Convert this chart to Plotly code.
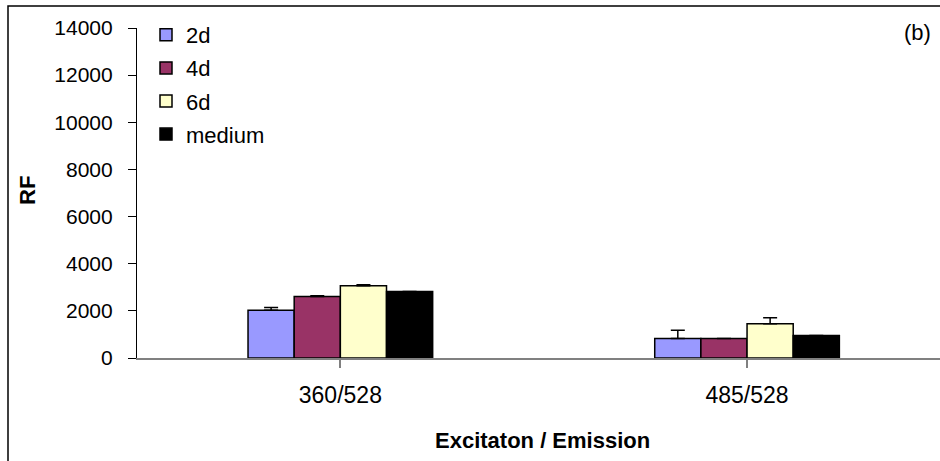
import plotly.graph_objects as go

categories = ["360/528", "485/528"]
series_names = ["2d", "4d", "6d", "medium"]
values = {
    "2d": [2030, 830],
    "4d": [2610, 830],
    "6d": [3060, 1450],
    "medium": [2820, 950],
}
errors = {
    "2d": [110, 350],
    "4d": [30, 0],
    "6d": [50, 260],
    "medium": [0, 0],
}
colors = {"2d": "#9999FF", "4d": "#993366", "6d": "#FFFFCC", "medium": "#000000"}
y_ticks = [0, 2000, 4000, 6000, 8000, 10000, 12000, 14000]

W, H = 940, 461
L, R, T, B = 137, 0, 28, 103
pw, ph = W - L - R, H - T - B

font = "Arial, Liberation Sans, sans-serif"

fig = go.Figure()
for i, s in enumerate(series_names):
    fig.add_trace(go.Bar(
        name=s, x=[0, 1], y=values[s],
        marker=dict(color=colors[s], line=dict(color="black", width=1.5)),
        error_y=dict(type="data", array=errors[s], arrayminus=[0, 0], symmetric=False,
                     color="black", thickness=1.5, width=7, visible=True),
        legendgroup=s,
    ))

def px_x(p):
    return (p - L) / pw

def px_y(p):
    return (H - B - p) / ph

cat_w = 406.7
x0 = -0.5
x1 = x0 + pw / cat_w

fig.update_layout(
    width=W, height=H,
    margin=dict(l=L, r=R, t=T, b=B, pad=0),
    paper_bgcolor="white", plot_bgcolor="white",
    barmode="group", bargap=0.546, bargroupgap=0,
    font=dict(family=font, size=22, color="black"),
    showlegend=True,
    legend=dict(x=px_x(146), y=px_y(14), xanchor="left", yanchor="top",
                bgcolor="rgba(0,0,0,0)", font=dict(size=22, family=font),
                traceorder="grouped", tracegroupgap=1.5, itemwidth=30),
    xaxis=dict(
        range=[x0, x1], tickmode="array", tickvals=[0, 1], ticktext=categories,
        tickson="boundaries", ticks="outside", ticklen=8, tickcolor="#808080", tickwidth=1.5,
        showline=True, linecolor="#808080", linewidth=1.5, showgrid=False, zeroline=False,
        tickfont=dict(size=23, family=font), ticklabelstandoff=8,
        fixedrange=True,
    ),
    yaxis=dict(
        range=[0, 14000], tickmode="array", tickvals=y_ticks, ticktext=[str(v) for v in y_ticks],
        ticks="outside", ticklen=8, tickcolor="black", tickwidth=1,
        showline=True, linecolor="black", linewidth=1.2, showgrid=False, zeroline=False,
        tickfont=dict(size=21, family=font), ticklabelstandoff=11,
    ),
    annotations=[
        dict(text="(b)", xref="paper", yref="paper", x=px_x(917), y=px_y(33),
             xanchor="center", yanchor="middle", showarrow=False,
             font=dict(size=22, family=font)),
        dict(text="<b>Excitaton / Emission</b>", xref="paper", yref="paper",
             x=px_x(542), y=px_y(440), xanchor="center", yanchor="middle", showarrow=False,
             font=dict(size=22, family=font)),
        dict(text="<b>RF</b>", xref="paper", yref="paper", textangle=-90,
             x=px_x(27), y=px_y(191), xanchor="center", yanchor="middle", showarrow=False,
             font=dict(size=22, family=font)),
    ],
    shapes=[dict(type="rect", xref="paper", yref="paper",
                 x0=px_x(8), x1=px_x(1000), y0=px_y(520), y1=px_y(6),
                 line=dict(color="black", width=1.5), fillcolor="rgba(0,0,0,0)", layer="below")],
)

fig.write_html("out.html")
